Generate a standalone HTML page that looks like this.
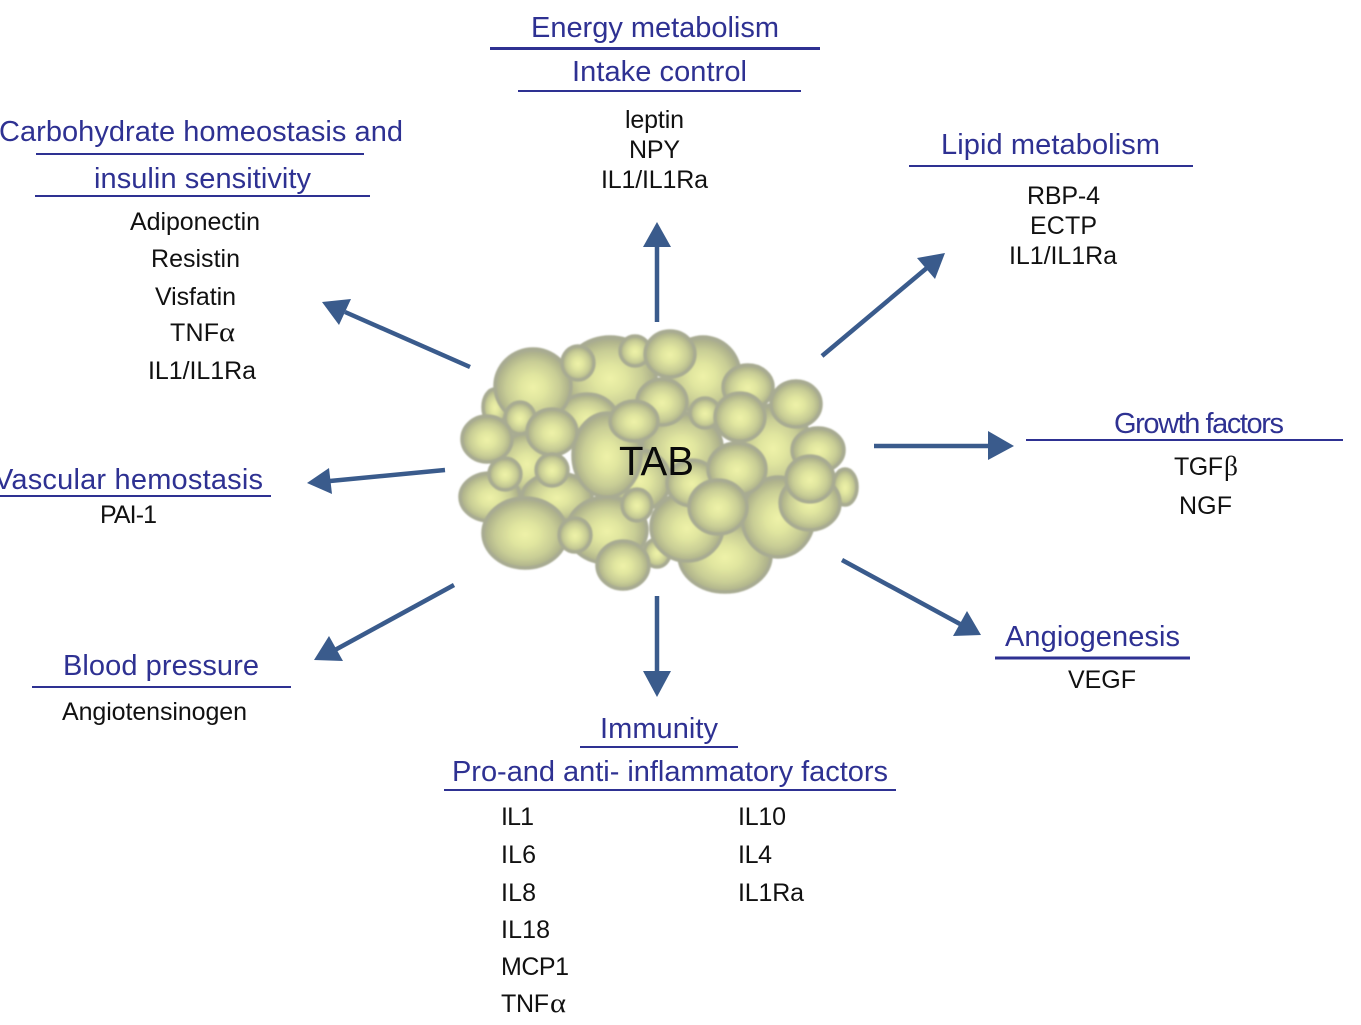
<!DOCTYPE html>
<html><head><meta charset="utf-8"><style>
html,body{margin:0;padding:0;background:#fff;width:1361px;height:1025px;overflow:hidden}
svg{display:block}
text{font-family:"Liberation Sans",Arial,sans-serif}
.h{font-size:29px;fill:#2e3192}
.t{font-size:25px;fill:#111}
.g{font-family:"Liberation Serif",serif;font-size:27px}
.u{stroke:#2e3192;stroke-width:2}
.a{stroke:#3a5b8c;stroke-width:4.5;fill:none}
.p{fill:#3a5b8c}
ellipse{fill:url(#b);stroke:#a8ab92;stroke-width:3.5}
</style></head><body>
<svg width="1361" height="1025" viewBox="0 0 1361 1025" xmlns="http://www.w3.org/2000/svg">
<defs><radialGradient id="b" cx="50%" cy="52%" r="50%">
<stop offset="0" stop-color="#eef2a8"/><stop offset=".35" stop-color="#e0e59f"/><stop offset=".7" stop-color="#c8cd95"/><stop offset=".92" stop-color="#b0b48c"/><stop offset="1" stop-color="#a8ab90"/></radialGradient>
<filter id="s" x="-5%" y="-5%" width="110%" height="110%"><feGaussianBlur stdDeviation="0.9"/></filter></defs>

<!-- fat cell cluster -->
<g filter="url(#s)">
<ellipse cx="610" cy="377" rx="46" ry="40"/>
<ellipse cx="703" cy="375" rx="37" ry="38"/>
<ellipse cx="495" cy="407" rx="12" ry="18"/>
<ellipse cx="587" cy="418" rx="30" ry="24"/>
<ellipse cx="682" cy="447" rx="40" ry="34"/>
<ellipse cx="773" cy="447" rx="38" ry="42"/>
<ellipse cx="527" cy="463" rx="30" ry="30"/>
<ellipse cx="490" cy="497" rx="30" ry="24"/>
<ellipse cx="557" cy="497" rx="35" ry="24"/>
<ellipse cx="640" cy="480" rx="30" ry="30"/>
<ellipse cx="725" cy="556" rx="46" ry="36"/>
<ellipse cx="607" cy="530" rx="40" ry="33"/>
<ellipse cx="657" cy="553" rx="13" ry="14"/>
<ellipse cx="845" cy="487" rx="12" ry="18"/>
<ellipse cx="778" cy="517" rx="36" ry="40"/>
<ellipse cx="687" cy="527" rx="36" ry="34"/>
<ellipse cx="533" cy="386" rx="38" ry="37"/>
<ellipse cx="578" cy="363" rx="16" ry="17"/>
<ellipse cx="635" cy="351" rx="15" ry="15"/>
<ellipse cx="670" cy="354" rx="25" ry="23"/>
<ellipse cx="748" cy="387" rx="25" ry="22"/>
<ellipse cx="796" cy="404" rx="25" ry="23"/>
<ellipse cx="662" cy="402" rx="25" ry="23"/>
<ellipse cx="705" cy="413" rx="15" ry="15"/>
<ellipse cx="520" cy="418" rx="15" ry="16"/>
<ellipse cx="487" cy="439" rx="25" ry="23"/>
<ellipse cx="607" cy="455" rx="34" ry="42"/>
<ellipse cx="634" cy="421" rx="24" ry="20"/>
<ellipse cx="740" cy="417" rx="25" ry="24"/>
<ellipse cx="552" cy="432" rx="25" ry="23"/>
<ellipse cx="552" cy="470" rx="16" ry="16"/>
<ellipse cx="505" cy="474" rx="16" ry="16"/>
<ellipse cx="525" cy="533" rx="42" ry="35"/>
<ellipse cx="575" cy="535" rx="16" ry="17"/>
<ellipse cx="637" cy="505" rx="15" ry="16"/>
<ellipse cx="623" cy="565" rx="26" ry="24"/>
<ellipse cx="692" cy="483" rx="25" ry="23"/>
<ellipse cx="737" cy="469" rx="29" ry="26"/>
<ellipse cx="718" cy="507" rx="29" ry="27"/>
<ellipse cx="818" cy="450" rx="26" ry="22"/>
<ellipse cx="810" cy="503" rx="30" ry="27"/>
<ellipse cx="810" cy="479" rx="24" ry="23"/>
</g>
<text x="619" y="475" font-size="41" fill="#0a0a0a" textLength="75" lengthAdjust="spacingAndGlyphs">TAB</text>

<!-- arrows -->
<line class="a" x1="657" y1="322" x2="657" y2="245"/><polygon class="p" points="643,247 671,247 657,222"/>
<line class="a" x1="822" y1="356" x2="928" y2="267"/><polygon class="p" points="945,253 917,258 935,279"/>
<line class="a" x1="874" y1="446" x2="990" y2="446"/><polygon class="p" points="1014,446 988,431 988,460"/>
<line class="a" x1="842" y1="560" x2="960" y2="624"/><polygon class="p" points="981,635 967,611 953,636"/>
<line class="a" x1="657" y1="596" x2="657" y2="672"/><polygon class="p" points="643,671 671,671 657,697"/>
<line class="a" x1="454" y1="585" x2="335" y2="650"/><polygon class="p" points="314,660 329,636 343,661"/>
<line class="a" x1="445" y1="470" x2="330" y2="481"/><polygon class="p" points="307,483 329,468 332,494"/>
<line class="a" x1="470" y1="367" x2="345" y2="312"/><polygon class="p" points="322,302 351,299 339,325"/>

<!-- top -->
<text class="h" x="531" y="37" textLength="248">Energy metabolism</text>
<line class="u" x1="490" y1="48.5" x2="820" y2="48.5" style="stroke-width:3"/>
<text class="h" x="572" y="81" textLength="175">Intake control</text>
<line class="u" x1="518" y1="91" x2="801" y2="91"/>
<text class="t" x="625" y="128" textLength="59">leptin</text>
<text class="t" x="629" y="158" textLength="51">NPY</text>
<text class="t" x="601" y="188" textLength="107">IL1/IL1Ra</text>

<!-- carbohydrate -->
<text class="h" x="-1" y="141" textLength="404">Carbohydrate homeostasis and</text>
<line class="u" x1="36" y1="154" x2="364" y2="154"/>
<text class="h" x="94" y="188" textLength="217">insulin sensitivity</text>
<line class="u" x1="35" y1="196" x2="370" y2="196"/>
<text class="t" x="130" y="230" textLength="130">Adiponectin</text>
<text class="t" x="151" y="267" textLength="89">Resistin</text>
<text class="t" x="155" y="305" textLength="81">Visfatin</text>
<text class="t" x="170" y="341" textLength="49">TNF</text><text class="t g" x="219" y="341" textLength="16" lengthAdjust="spacingAndGlyphs">α</text>
<text class="t" x="148" y="379" textLength="108">IL1/IL1Ra</text>

<!-- lipid -->
<text class="h" x="941" y="154" textLength="219">Lipid metabolism</text>
<line class="u" x1="909" y1="166" x2="1193" y2="166"/>
<text class="t" x="1027" y="204" textLength="73">RBP-4</text>
<text class="t" x="1030" y="234" textLength="67">ECTP</text>
<text class="t" x="1009" y="264" textLength="108">IL1/IL1Ra</text>

<!-- growth -->
<text class="h" x="1114" y="433" textLength="170">Growth factors</text>
<line class="u" x1="1026" y1="440" x2="1343" y2="440"/>
<text class="t" x="1174" y="475" textLength="49">TGF</text><text class="t g" x="1224" y="475" textLength="14" lengthAdjust="spacingAndGlyphs">β</text>
<text class="t" x="1179" y="514" textLength="53">NGF</text>

<!-- angiogenesis -->
<text class="h" x="1005" y="646" textLength="175">Angiogenesis</text>
<line class="u" x1="995" y1="658" x2="1190" y2="658" style="stroke-width:3"/>
<text class="t" x="1068" y="688" textLength="68">VEGF</text>

<!-- vascular -->
<text class="h" x="-6" y="489" textLength="269">Vascular hemostasis</text>
<line class="u" x1="0" y1="496" x2="271" y2="496"/>
<text class="t" x="100" y="523" textLength="57">PAI-1</text>

<!-- blood -->
<text class="h" x="63" y="675" textLength="196">Blood pressure</text>
<line class="u" x1="32" y1="687" x2="291" y2="687"/>
<text class="t" x="62" y="720" textLength="185">Angiotensinogen</text>

<!-- immunity -->
<text class="h" x="600" y="738" textLength="118">Immunity</text>
<line class="u" x1="580" y1="747" x2="738" y2="747"/>
<text class="h" x="452" y="781" textLength="436">Pro-and anti- inflammatory factors</text>
<line class="u" x1="444" y1="790" x2="896" y2="790"/>
<text class="t" x="501" y="825" textLength="33">IL1</text>
<text class="t" x="501" y="863" textLength="35">IL6</text>
<text class="t" x="501" y="901" textLength="35">IL8</text>
<text class="t" x="501" y="938" textLength="49">IL18</text>
<text class="t" x="501" y="975" textLength="68">MCP1</text>
<text class="t" x="501" y="1012" textLength="48">TNF</text><text class="t g" x="550" y="1012" textLength="16" lengthAdjust="spacingAndGlyphs">α</text>
<text class="t" x="738" y="825" textLength="48">IL10</text>
<text class="t" x="738" y="863" textLength="34">IL4</text>
<text class="t" x="738" y="901" textLength="66">IL1Ra</text>
</svg>
</body></html>
